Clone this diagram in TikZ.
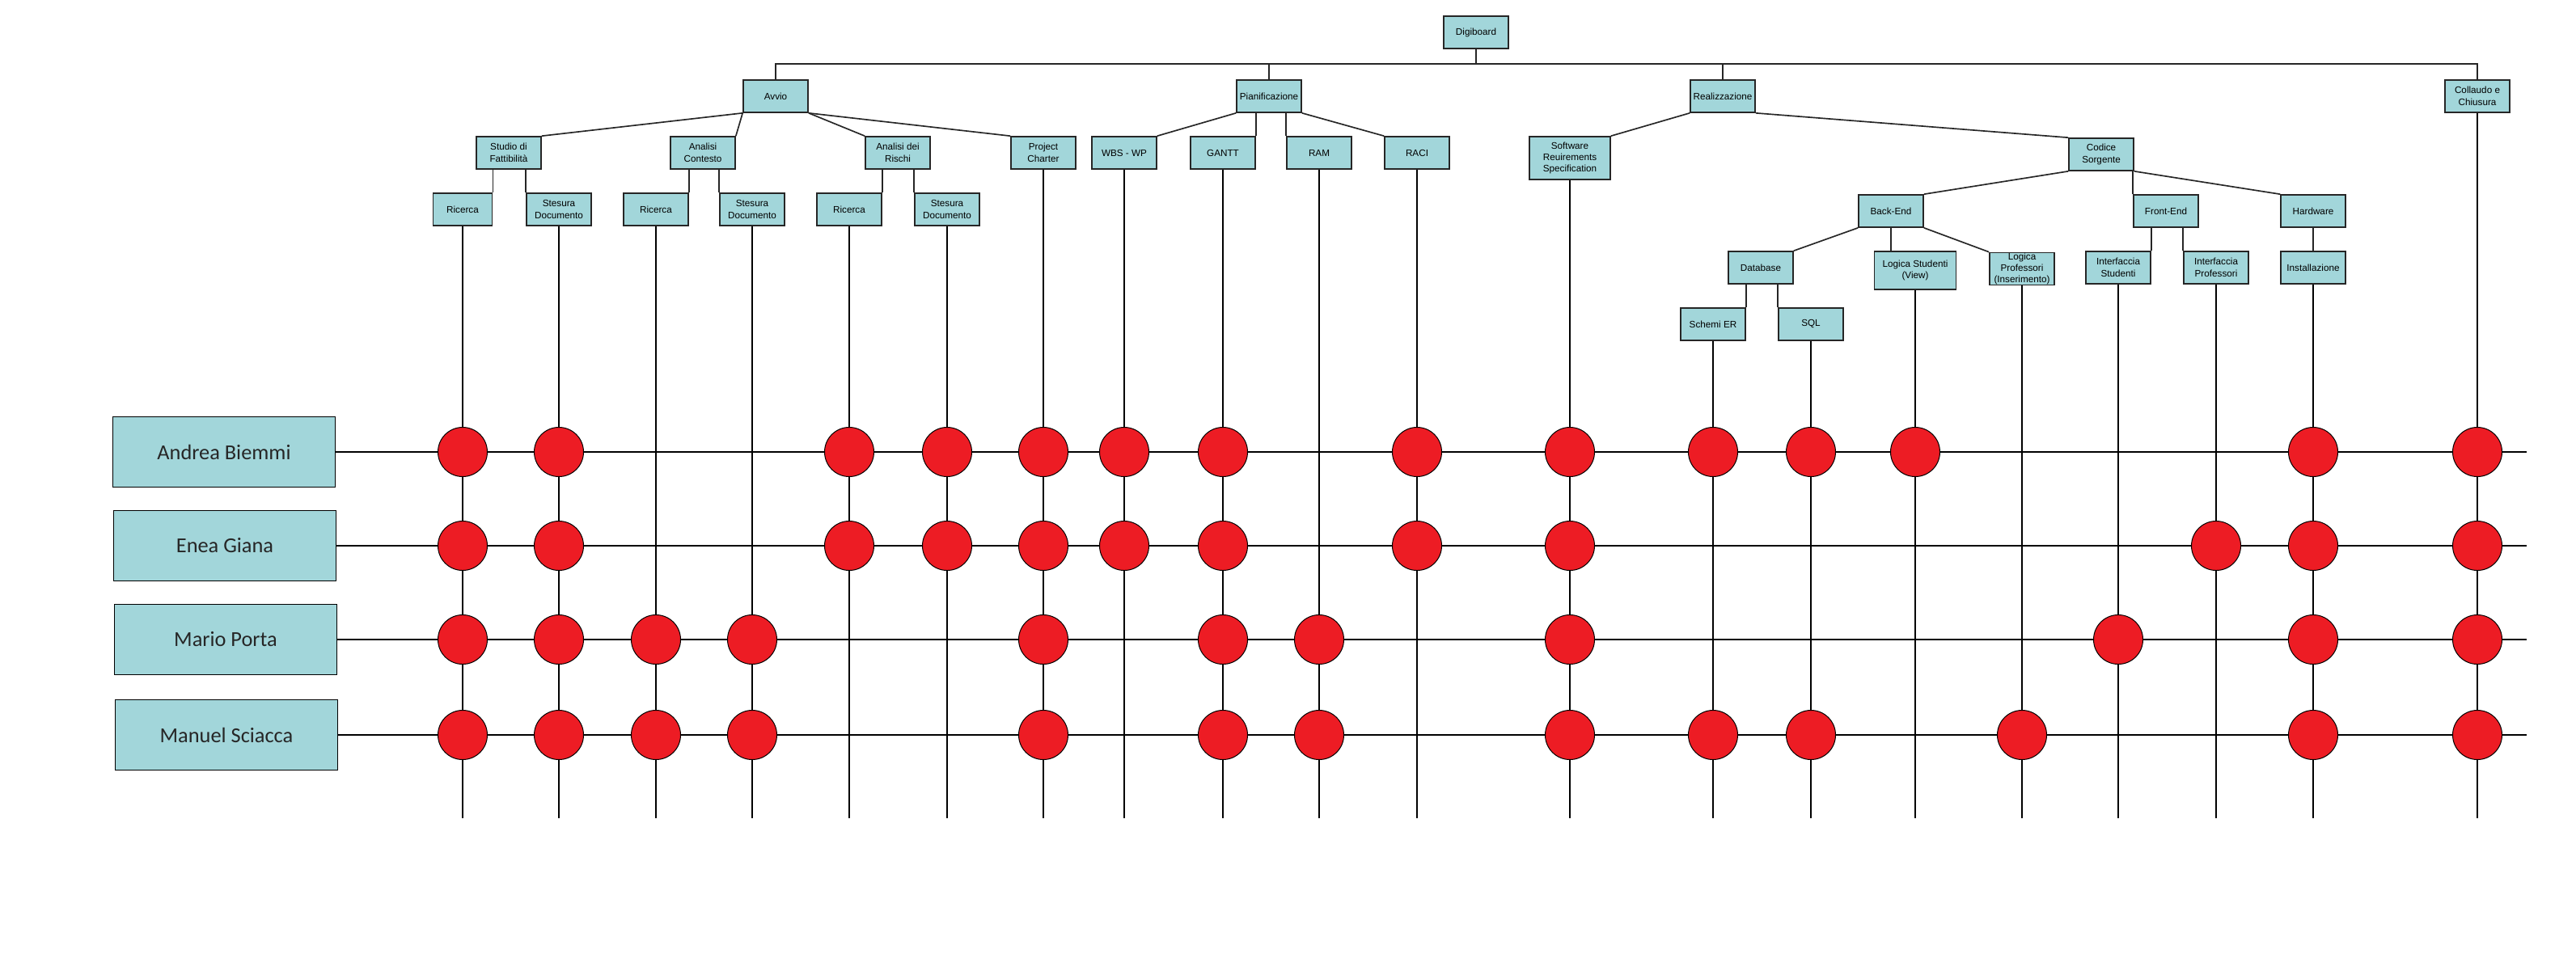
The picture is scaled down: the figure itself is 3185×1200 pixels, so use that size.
\documentclass[tikz,border=0pt]{standalone}
\usepackage{fontspec}
\setmainfont{Liberation Sans}
\newfontfamily\namefont{Carlito}
\usepackage{tikz}

\definecolor{boxteal}{RGB}{162,214,218}
\definecolor{slotred}{RGB}{237,28,36}

\tikzset{
    wbstext/.style={align=center, inner sep=0pt, font=\fontsize{10}{12.3}\selectfont},
    wbs/.style={wbstext, draw=black!85, line width=0.5mm, fill=boxteal, minimum width=24mm, minimum height=12mm},
    person/.style={draw=black, line width=0.45mm, fill=boxteal, minimum width=82.5mm, minimum height=26.2mm, inner sep=0pt, text=black!85, font=\namefont\fontsize{22.5}{27}\selectfont},
    link/.style={line width=0.5mm, black!85},
    gridline/.style={line width=0.35mm},
    slot/.style={circle, draw=black, line width=0.3mm, fill=slotred, minimum size=18.3mm, inner sep=0pt}
}

\begin{document}
\begin{tikzpicture}[x=0.3mm, y=-0.3mm]
        \useasboundingbox (0,0) rectangle (3185,1200);
        \coordinate (bus) at (0,79);
        \coordinate (bot) at (0,1012);
        \coordinate (rend) at (3124,0);

        \node[wbs] (digi) at (1825,40) {Digiboard};
        \node[wbs] (avvio) at (959,119) {Avvio};
        \node[wbs] (pian) at (1569,119) {Pianificazione};
        \node[wbs] (real) at (2130,119) {Realizzazione};
        \node[wbs] (coll) at (3063,119) {Collaudo e\\Chiusura};

        \node[wbs] (studio) at (629,189) {Studio di\\Fattibilità};
        \node[wbs] (acont) at (869,189) {Analisi\\Contesto};
        \node[wbs] (arischi) at (1110,189) {Analisi dei\\Rischi};
        \node[wbs] (pcharter) at (1290,189) {Project\\Charter};
        \node[wbs] (wbsn) at (1390,189) {WBS - WP};
        \node[wbs] (gantt) at (1512,189) {GANTT};
        \node[wbs] (ram) at (1631,189) {RAM};
        \node[wbs] (raci) at (1752,189) {RACI};
        \node[wbs, minimum width=30mm, minimum height=15.9mm] (srs) at (1941,195.5) {Software\\Reuirements\\Specification};
        \node[wbs] (codice) at (2598,191) {Codice\\Sorgente};

        \node[wbs, minimum width=21.9mm] (ric1) at (572,259) {Ricerca};
        \node[wbs] (stes1) at (691,259) {Stesura\\Documento};
        \node[wbs] (ric2) at (811,259) {Ricerca};
        \node[wbs] (stes2) at (930,259) {Stesura\\Documento};
        \node[wbs] (ric3) at (1050,259) {Ricerca};
        \node[wbs] (stes3) at (1171,259) {Stesura\\Documento};
        \node[wbs] (backend) at (2338,261) {Back-End};
        \node[wbs] (frontend) at (2678,261) {Front-End};
        \node[wbs] (hardware) at (2860,261) {Hardware};

        \node[wbs] (database) at (2177,331) {Database};
        \node[wbs, minimum width=30.3mm, minimum height=14.1mm] (lstud) at (2368,334.5) {Logica Studenti\\(View)};
        \node[wbs] (lprof) at (2500,332.5) {};
        \node[wbstext, font=\fontsize{10}{12}\selectfont] (lproftext) at (lprof) {Logica\\Professori\\(Inserimento)};
        \node[wbs] (istud) at (2619,331) {Interfaccia\\Studenti};
        \node[wbs] (iprof) at (2740,331) {Interfaccia\\Professori};
        \node[wbs] (install) at (2860,331) {Installazione};

        \node[wbs] (schemi) at (2118,401) {Schemi ER};
        \node[wbs] (sql) at (2239,401) {SQL};

        \node[person] (andrea) at (277,559) {Andrea Biemmi};
        \node[person] (enea) at (278,675) {Enea Giana};
        \node[person] (mario) at (279,791) {Mario Porta};
        \node[person] (manuel) at (280,909) {Manuel Sciacca};

        \draw[link] (digi.south) -- (digi.south |- bus);
        \draw[link] (avvio.north) -- (avvio.north |- bus) -| (coll.north);
        \foreach \n in {pian,real}
            \draw[link] (\n.north) -- (\n.north |- bus);

        \draw[link] (avvio.south west) -- (studio.north east);
        \draw[link] (avvio.south west) -- (acont.north east);
        \draw[link] (avvio.south east) -- (arischi.north west);
        \draw[link] (avvio.south east) -- (pcharter.north west);
        \draw[link] (pian.south west) -- (wbsn.north east);
        \draw[link] (gantt.north east) -- (gantt.north east |- pian.south);
        \draw[link] (ram.north west) -- (ram.north west |- pian.south);
        \draw[link] (pian.south east) -- (raci.north west);
        \draw[link] (real.south west) -- (srs.north east);
        \draw[link] (real.south east) -- (codice.north west);

        \foreach \p/\a/\b in {studio/ric1/stes1, acont/ric2/stes2, arischi/ric3/stes3} {
            \draw[link] (\a.north east) -- (\a.north east |- \p.south);
            \draw[link] (\b.north west) -- (\b.north west |- \p.south);
        }

        \draw[link] (codice.south west) -- (backend.north east);
        \draw[link] (frontend.north west) -- (frontend.north west |- codice.south);
        \draw[link] (codice.south east) -- (hardware.north west);
        \draw[link] (backend.south west) -- (database.north east);
        \draw[link] (backend.south) -- (backend.south |- lstud.north);
        \draw[link] (backend.south east) -- (lprof.north west);
        \draw[link] (istud.north east) -- (istud.north east |- frontend.south);
        \draw[link] (iprof.north west) -- (iprof.north west |- frontend.south);
        \draw[link] (hardware.south) -- (install.north);
        \draw[link] (schemi.north east) -- (schemi.north east |- database.south);
        \draw[link] (sql.north west) -- (sql.north west |- database.south);

        \foreach \c in {ric1,stes1,ric2,stes2,ric3,stes3,pcharter,wbsn,gantt,ram,raci,srs,schemi,sql,lstud,lprof,istud,iprof,install,coll}
            \draw[gridline] (\c.south) -- (\c.south |- bot);
        \foreach \p in {andrea,enea,mario,manuel}
            \draw[gridline] (\p.east) -- (\p.east -| rend);

        \foreach \p/\cols in {
            andrea/{ric1,stes1,ric3,stes3,pcharter,wbsn,gantt,raci,srs,schemi,sql,lstud,install,coll},
            enea/{ric1,stes1,ric3,stes3,pcharter,wbsn,gantt,raci,srs,iprof,install,coll},
            mario/{ric1,stes1,ric2,stes2,pcharter,gantt,ram,srs,istud,install,coll},
            manuel/{ric1,stes1,ric2,stes2,pcharter,gantt,ram,srs,schemi,sql,lprof,install,coll}}
            \foreach \c in \cols
                \node[slot] (\p-\c) at (\c |- \p) {};
\end{tikzpicture}
\end{document}
